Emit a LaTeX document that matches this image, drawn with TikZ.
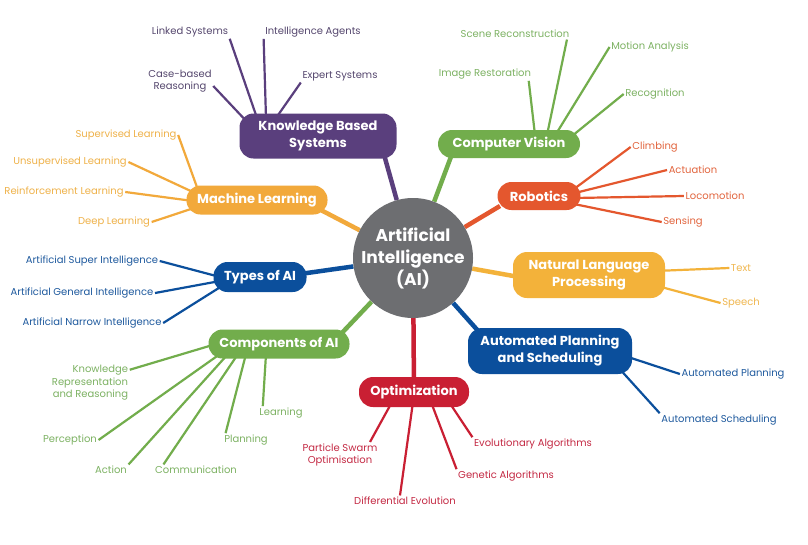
\documentclass[tikz,border=0pt]{standalone}
\usepackage{fontspec}
\setmainfont{Poppins}
\usetikzlibrary{calc}

\definecolor{aigray}{HTML}{6D6E71}
\definecolor{kbspurple}{HTML}{5A3F7D}
\definecolor{kbsleaf}{HTML}{55476E}
\definecolor{mlorange}{HTML}{F2A93B}
\definecolor{mlleaf}{HTML}{EFB24A}
\definecolor{cvgreen}{HTML}{72AD4C}
\definecolor{cvleaf}{HTML}{7DB263}
\definecolor{robred}{HTML}{E4572E}
\definecolor{robleaf}{HTML}{E2653E}
\definecolor{nlpyellow}{HTML}{F3B23A}
\definecolor{nlpleaf}{HTML}{F0B750}
\definecolor{apsblue}{HTML}{0B4F9C}
\definecolor{apsleaf}{HTML}{1F5A9E}
\definecolor{optred}{HTML}{C91F33}
\definecolor{optleaf}{HTML}{C42A44}

\pgfdeclarelayer{bg}
\pgfsetlayers{bg,main}

\tikzset{
  hub/.style={circle, fill=aigray, text=white, minimum size=120pt, inner sep=0pt,
    align=center, font=\bfseries\fontsize{17}{22}\selectfont},
  branch/.style={rounded corners=14pt, fill=#1, text=white, align=center, inner sep=2pt,
    font=\bfseries\fontsize{13}{17}\selectfont},
  leaf/.style={text=#1, inner sep=1.5pt, align=center, font=\fontsize{10}{12.5}\selectfont},
  link/.style={draw=#1, line width=4.5pt},
  twig/.style={draw=#1, line width=2.2pt},
}

\begin{document}
\begin{tikzpicture}[x=1pt,y=-1pt]
  \useasboundingbox (0,0) rectangle (808,544);

  % centre
  \node[hub] (ai) at (413,258) {Artificial\\Intelligence\\(AI)};

  % branches
  \node[branch=kbspurple, minimum width=157pt, minimum height=45pt] (kbs) at (318,136) {Knowledge Based\\Systems};
  \node[branch=mlorange, minimum width=141pt, minimum height=29pt] (ml) at (257,200) {Machine Learning};
  \node[branch=cvgreen, minimum width=142pt, minimum height=28pt] (cv) at (509,144) {Computer Vision};
  \node[branch=robred, minimum width=83pt, minimum height=28pt] (rob) at (539,196) {Robotics};
  \node[branch=nlpyellow, minimum width=152pt, minimum height=46pt] (nlp) at (589,275) {Natural Language\\Processing};
  \node[branch=apsblue, minimum width=164pt, minimum height=46pt] (aps) at (550,351) {Automated Planning\\and Scheduling};
  \node[branch=optred, minimum width=110pt, minimum height=30pt] (opt) at (414,392) {Optimization};
  \node[branch=apsblue, minimum width=93pt, minimum height=30pt] (types) at (260,277) {Types of AI};
  \node[branch=cvgreen, minimum width=141pt, minimum height=29pt] (comp) at (279,344) {Components of AI};

  % knowledge based systems
  \node[leaf=kbsleaf] (ls) at (190,32) {Linked Systems};
  \node[leaf=kbsleaf] (ia) at (313,32) {Intelligence Agents};
  \node[leaf=kbsleaf] (cbr) at (180,81) {Case-based\\Reasoning};
  \node[leaf=kbsleaf] (es) at (340,76) {Expert Systems};

  % machine learning
  \node[leaf=mlleaf] (sl) at (126,135) {Supervised Learning};
  \node[leaf=mlleaf] (ul) at (70,162) {Unsupervised Learning};
  \node[leaf=mlleaf] (rl) at (64,192) {Reinforcement Learning};
  \node[leaf=mlleaf] (dl) at (114,222) {Deep Learning};

  % computer vision
  \node[leaf=cvleaf] (sr) at (515,34) {Scene Reconstruction};
  \node[leaf=cvleaf] (ir) at (485,74) {Image Restoration};
  \node[leaf=cvleaf] (ma) at (650,47) {Motion Analysis};
  \node[leaf=cvleaf] (rc) at (655,94) {Recognition};

  % robotics
  \node[leaf=robleaf] (cl) at (655,147) {Climbing};
  \node[leaf=robleaf] (ac) at (693,170) {Actuation};
  \node[leaf=robleaf] (lo) at (715,196) {Locomotion};
  \node[leaf=robleaf] (se) at (683,222) {Sensing};

  % natural language processing
  \node[leaf=nlpleaf] (tx) at (741,268) {Text};
  \node[leaf=nlpleaf] (sp) at (741,303) {Speech};

  % planning and scheduling
  \node[leaf=apsleaf] (apl) at (733,374) {Automated Planning};
  \node[leaf=apsleaf] (asc) at (719,420) {Automated Scheduling};

  % optimization
  \node[leaf=optleaf] (pso) at (340,455) {Particle Swarm\\Optimisation};
  \node[leaf=optleaf] (de) at (405,501) {Differential Evolution};
  \node[leaf=optleaf] (ga) at (506,476) {Genetic Algorithms};
  \node[leaf=optleaf] (ea) at (533,444) {Evolutionary Algorithms};

  % types of AI
  \node[leaf=apsleaf] (asi) at (92,261) {Artificial Super Intelligence};
  \node[leaf=apsleaf] (agi) at (82,293) {Artificial General Intelligence};
  \node[leaf=apsleaf] (ani) at (92,323) {Artificial Narrow Intelligence};

  % components of AI
  \node[leaf=cvleaf, align=right] (krr) at (90,383) {Knowledge\\Representation\\and Reasoning};
  \node[leaf=cvleaf] (pe) at (70,440) {Perception};
  \node[leaf=cvleaf] (act) at (111,470) {Action};
  \node[leaf=cvleaf] (com) at (196,470) {Communication};
  \node[leaf=cvleaf] (pl) at (246,440) {Planning};
  \node[leaf=cvleaf] (le) at (281,413) {Learning};

  \begin{pgfonlayer}{bg}
    \fill[white] (0,0) rectangle (808,544);

    % thick links to the centre
    \draw[link=kbspurple] ($(kbs)+(65,15)$) -- (ai);
    \draw[link=mlorange] ($(ml)+(60,8)$) -- (ai);
    \draw[link=cvgreen] ($(cv)+(-57,10)$) -- (ai);
    \draw[link=robred] ($(rob)+(-39,10)$) -- (ai);
    \draw[link=nlpyellow] ($(nlp)+(-70,2)$) -- (ai);
    \draw[link=apsblue] ($(aps)+(-70,-18)$) -- (ai);
    \draw[link=optred] (opt) -- (ai);
    \draw[link=apsblue] ($(types)+(40,-3)$) -- (ai);
    \draw[link=cvgreen] ($(comp)+(60,-8)$) -- (ai);

    % twigs
    \draw[twig=kbspurple] (ls.south east) -- ($(kbs)+(-61,-18)$);
    \draw[twig=kbspurple] (ia.south west) -- ($(kbs)+(-52,-18)$);
    \draw[twig=kbspurple] ([yshift=-5pt]cbr.east) -- ($(kbs)+(-68,-11)$);
    \draw[twig=kbspurple] (es.south west) -- ($(kbs)+(-42,-18)$);

    \draw[twig=mlorange] (sl.east) -- ($(ml)+(-59,-10)$);
    \draw[twig=mlorange] (ul.east) -- ($(ml)+(-62,-7)$);
    \draw[twig=mlorange] (rl.east) -- ($(ml)+(-64,1)$);
    \draw[twig=mlorange] (dl.east) -- ($(ml)+(-63,8)$);

    \draw[twig=cvgreen] ([xshift=-4pt]sr.south east) -- ($(cv)+(38,-9)$);
    \draw[twig=cvgreen] ([xshift=-4pt]ir.south east) -- ($(cv)+(26,-9)$);
    \draw[twig=cvgreen] (ma.west) -- ($(cv)+(47,-10)$);
    \draw[twig=cvgreen] (rc.west) -- ($(cv)+(63,-8)$);

    \draw[twig=robred] (cl.west) -- ($(rob)+(35,-7)$);
    \draw[twig=robred] (ac.west) -- ($(rob)+(36,-3)$);
    \draw[twig=robred] (lo.west) -- ($(rob)+(36,2)$);
    \draw[twig=robred] (se.west) -- ($(rob)+(35,8)$);

    \draw[twig=nlpyellow] (tx.west) -- ($(nlp)+(66,-4)$);
    \draw[twig=nlpyellow] (sp.west) -- ($(nlp)+(61,9)$);

    \draw[twig=apsblue] (apl.west) -- ($(aps)+(72,4)$);
    \draw[twig=apsblue] (asc.north west) -- ($(aps)+(67,15)$);

    \draw[twig=optred] ([xshift=-9pt]pso.north east) -- ($(opt)+(-22,10)$);
    \draw[twig=optred] ([xshift=-5pt]de.north) -- ($(opt)+(-1,10)$);
    \draw[twig=optred] (ga.north west) -- ($(opt)+(17,10)$);
    \draw[twig=optred] (ea.north west) -- ($(opt)+(35,10)$);

    \draw[twig=apsblue] (asi.east) -- ($(types)+(-40,0)$);
    \draw[twig=apsblue] (agi.east) -- ($(types)+(-40,4)$);
    \draw[twig=apsblue] (ani.east) -- ($(types)+(-38,9)$);

    \draw[twig=cvgreen] ([yshift=-6pt]krr.north east) -- ($(comp)+(-63,0)$);
    \draw[twig=cvgreen] (pe.east) -- ($(comp)+(-59,10)$);
    \draw[twig=cvgreen] (act.north east) -- ($(comp)+(-51,10)$);
    \draw[twig=cvgreen] ([xshift=10pt]com.north west) -- ($(comp)+(-41,10)$);
    \draw[twig=cvgreen] ([xshift=3pt]pl.north west) -- ($(comp)+(-33,10)$);
    \draw[twig=cvgreen] ([xshift=5pt]le.north west) -- ($(comp)+(-13,10)$);
  \end{pgfonlayer}
\end{tikzpicture}
\end{document}
